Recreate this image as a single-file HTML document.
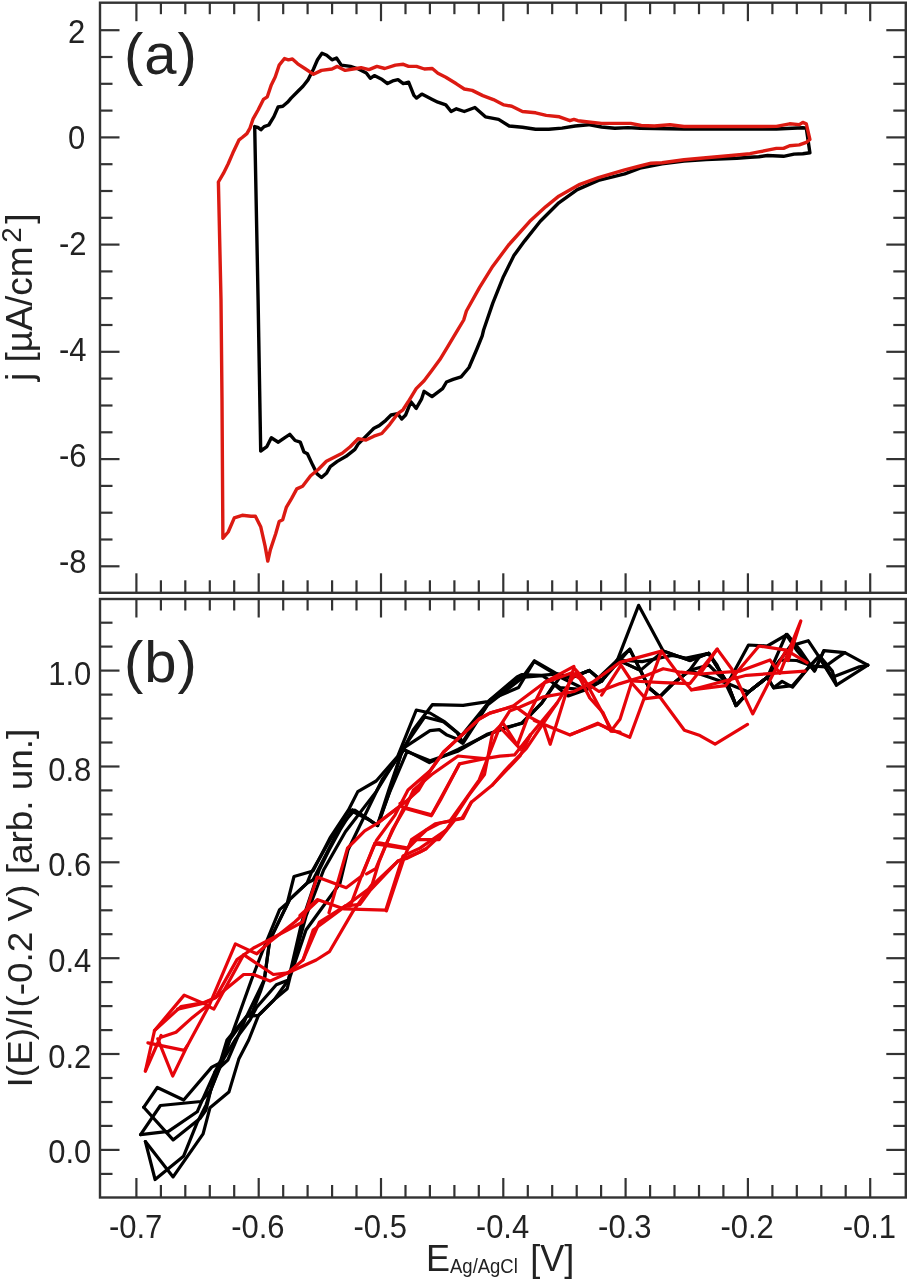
<!DOCTYPE html>
<html><head><meta charset="utf-8"><style>
html,body{margin:0;padding:0;background:#fff;}
body{width:909px;height:1280px;overflow:hidden;}
svg{display:block;}
.t{font-family:"Liberation Sans",Arial,sans-serif;font-size:31px;fill:#222;}
.a{font-family:"Liberation Sans",Arial,sans-serif;font-size:36px;fill:#222;}
.p{font-family:"Liberation Sans",Arial,sans-serif;font-size:58px;letter-spacing:1px;fill:#222;}
</style></head><body>
<svg width="909" height="1280" viewBox="0 0 909 1280">
<rect width="909" height="1280" fill="#fff"/>
<rect x="100.0" y="2.7" width="805.8" height="590.1" fill="none" stroke="#333" stroke-width="2.4"/>
<rect x="100.0" y="599.0" width="805.8" height="598.5" fill="none" stroke="#333" stroke-width="2.4"/>
<line x1="136.4" y1="2.7" x2="136.4" y2="21.2" stroke="#333" stroke-width="2.2"/>
<line x1="136.4" y1="592.8" x2="136.4" y2="573.3" stroke="#333" stroke-width="2.2"/>
<line x1="136.4" y1="599.0" x2="136.4" y2="617.5" stroke="#333" stroke-width="2.2"/>
<line x1="136.4" y1="1197.5" x2="136.4" y2="1178.0" stroke="#333" stroke-width="2.2"/>
<line x1="160.9" y1="2.7" x2="160.9" y2="14.2" stroke="#333" stroke-width="2.2"/>
<line x1="160.9" y1="592.8" x2="160.9" y2="580.3" stroke="#333" stroke-width="2.2"/>
<line x1="160.9" y1="599.0" x2="160.9" y2="610.5" stroke="#333" stroke-width="2.2"/>
<line x1="160.9" y1="1197.5" x2="160.9" y2="1185.0" stroke="#333" stroke-width="2.2"/>
<line x1="185.3" y1="2.7" x2="185.3" y2="14.2" stroke="#333" stroke-width="2.2"/>
<line x1="185.3" y1="592.8" x2="185.3" y2="580.3" stroke="#333" stroke-width="2.2"/>
<line x1="185.3" y1="599.0" x2="185.3" y2="610.5" stroke="#333" stroke-width="2.2"/>
<line x1="185.3" y1="1197.5" x2="185.3" y2="1185.0" stroke="#333" stroke-width="2.2"/>
<line x1="209.8" y1="2.7" x2="209.8" y2="14.2" stroke="#333" stroke-width="2.2"/>
<line x1="209.8" y1="592.8" x2="209.8" y2="580.3" stroke="#333" stroke-width="2.2"/>
<line x1="209.8" y1="599.0" x2="209.8" y2="610.5" stroke="#333" stroke-width="2.2"/>
<line x1="209.8" y1="1197.5" x2="209.8" y2="1185.0" stroke="#333" stroke-width="2.2"/>
<line x1="234.2" y1="2.7" x2="234.2" y2="14.2" stroke="#333" stroke-width="2.2"/>
<line x1="234.2" y1="592.8" x2="234.2" y2="580.3" stroke="#333" stroke-width="2.2"/>
<line x1="234.2" y1="599.0" x2="234.2" y2="610.5" stroke="#333" stroke-width="2.2"/>
<line x1="234.2" y1="1197.5" x2="234.2" y2="1185.0" stroke="#333" stroke-width="2.2"/>
<line x1="258.7" y1="2.7" x2="258.7" y2="21.2" stroke="#333" stroke-width="2.2"/>
<line x1="258.7" y1="592.8" x2="258.7" y2="573.3" stroke="#333" stroke-width="2.2"/>
<line x1="258.7" y1="599.0" x2="258.7" y2="617.5" stroke="#333" stroke-width="2.2"/>
<line x1="258.7" y1="1197.5" x2="258.7" y2="1178.0" stroke="#333" stroke-width="2.2"/>
<line x1="283.2" y1="2.7" x2="283.2" y2="14.2" stroke="#333" stroke-width="2.2"/>
<line x1="283.2" y1="592.8" x2="283.2" y2="580.3" stroke="#333" stroke-width="2.2"/>
<line x1="283.2" y1="599.0" x2="283.2" y2="610.5" stroke="#333" stroke-width="2.2"/>
<line x1="283.2" y1="1197.5" x2="283.2" y2="1185.0" stroke="#333" stroke-width="2.2"/>
<line x1="307.6" y1="2.7" x2="307.6" y2="14.2" stroke="#333" stroke-width="2.2"/>
<line x1="307.6" y1="592.8" x2="307.6" y2="580.3" stroke="#333" stroke-width="2.2"/>
<line x1="307.6" y1="599.0" x2="307.6" y2="610.5" stroke="#333" stroke-width="2.2"/>
<line x1="307.6" y1="1197.5" x2="307.6" y2="1185.0" stroke="#333" stroke-width="2.2"/>
<line x1="332.1" y1="2.7" x2="332.1" y2="14.2" stroke="#333" stroke-width="2.2"/>
<line x1="332.1" y1="592.8" x2="332.1" y2="580.3" stroke="#333" stroke-width="2.2"/>
<line x1="332.1" y1="599.0" x2="332.1" y2="610.5" stroke="#333" stroke-width="2.2"/>
<line x1="332.1" y1="1197.5" x2="332.1" y2="1185.0" stroke="#333" stroke-width="2.2"/>
<line x1="356.5" y1="2.7" x2="356.5" y2="14.2" stroke="#333" stroke-width="2.2"/>
<line x1="356.5" y1="592.8" x2="356.5" y2="580.3" stroke="#333" stroke-width="2.2"/>
<line x1="356.5" y1="599.0" x2="356.5" y2="610.5" stroke="#333" stroke-width="2.2"/>
<line x1="356.5" y1="1197.5" x2="356.5" y2="1185.0" stroke="#333" stroke-width="2.2"/>
<line x1="381.0" y1="2.7" x2="381.0" y2="21.2" stroke="#333" stroke-width="2.2"/>
<line x1="381.0" y1="592.8" x2="381.0" y2="573.3" stroke="#333" stroke-width="2.2"/>
<line x1="381.0" y1="599.0" x2="381.0" y2="617.5" stroke="#333" stroke-width="2.2"/>
<line x1="381.0" y1="1197.5" x2="381.0" y2="1178.0" stroke="#333" stroke-width="2.2"/>
<line x1="405.5" y1="2.7" x2="405.5" y2="14.2" stroke="#333" stroke-width="2.2"/>
<line x1="405.5" y1="592.8" x2="405.5" y2="580.3" stroke="#333" stroke-width="2.2"/>
<line x1="405.5" y1="599.0" x2="405.5" y2="610.5" stroke="#333" stroke-width="2.2"/>
<line x1="405.5" y1="1197.5" x2="405.5" y2="1185.0" stroke="#333" stroke-width="2.2"/>
<line x1="429.9" y1="2.7" x2="429.9" y2="14.2" stroke="#333" stroke-width="2.2"/>
<line x1="429.9" y1="592.8" x2="429.9" y2="580.3" stroke="#333" stroke-width="2.2"/>
<line x1="429.9" y1="599.0" x2="429.9" y2="610.5" stroke="#333" stroke-width="2.2"/>
<line x1="429.9" y1="1197.5" x2="429.9" y2="1185.0" stroke="#333" stroke-width="2.2"/>
<line x1="454.4" y1="2.7" x2="454.4" y2="14.2" stroke="#333" stroke-width="2.2"/>
<line x1="454.4" y1="592.8" x2="454.4" y2="580.3" stroke="#333" stroke-width="2.2"/>
<line x1="454.4" y1="599.0" x2="454.4" y2="610.5" stroke="#333" stroke-width="2.2"/>
<line x1="454.4" y1="1197.5" x2="454.4" y2="1185.0" stroke="#333" stroke-width="2.2"/>
<line x1="478.8" y1="2.7" x2="478.8" y2="14.2" stroke="#333" stroke-width="2.2"/>
<line x1="478.8" y1="592.8" x2="478.8" y2="580.3" stroke="#333" stroke-width="2.2"/>
<line x1="478.8" y1="599.0" x2="478.8" y2="610.5" stroke="#333" stroke-width="2.2"/>
<line x1="478.8" y1="1197.5" x2="478.8" y2="1185.0" stroke="#333" stroke-width="2.2"/>
<line x1="503.3" y1="2.7" x2="503.3" y2="21.2" stroke="#333" stroke-width="2.2"/>
<line x1="503.3" y1="592.8" x2="503.3" y2="573.3" stroke="#333" stroke-width="2.2"/>
<line x1="503.3" y1="599.0" x2="503.3" y2="617.5" stroke="#333" stroke-width="2.2"/>
<line x1="503.3" y1="1197.5" x2="503.3" y2="1178.0" stroke="#333" stroke-width="2.2"/>
<line x1="527.8" y1="2.7" x2="527.8" y2="14.2" stroke="#333" stroke-width="2.2"/>
<line x1="527.8" y1="592.8" x2="527.8" y2="580.3" stroke="#333" stroke-width="2.2"/>
<line x1="527.8" y1="599.0" x2="527.8" y2="610.5" stroke="#333" stroke-width="2.2"/>
<line x1="527.8" y1="1197.5" x2="527.8" y2="1185.0" stroke="#333" stroke-width="2.2"/>
<line x1="552.2" y1="2.7" x2="552.2" y2="14.2" stroke="#333" stroke-width="2.2"/>
<line x1="552.2" y1="592.8" x2="552.2" y2="580.3" stroke="#333" stroke-width="2.2"/>
<line x1="552.2" y1="599.0" x2="552.2" y2="610.5" stroke="#333" stroke-width="2.2"/>
<line x1="552.2" y1="1197.5" x2="552.2" y2="1185.0" stroke="#333" stroke-width="2.2"/>
<line x1="576.7" y1="2.7" x2="576.7" y2="14.2" stroke="#333" stroke-width="2.2"/>
<line x1="576.7" y1="592.8" x2="576.7" y2="580.3" stroke="#333" stroke-width="2.2"/>
<line x1="576.7" y1="599.0" x2="576.7" y2="610.5" stroke="#333" stroke-width="2.2"/>
<line x1="576.7" y1="1197.5" x2="576.7" y2="1185.0" stroke="#333" stroke-width="2.2"/>
<line x1="601.1" y1="2.7" x2="601.1" y2="14.2" stroke="#333" stroke-width="2.2"/>
<line x1="601.1" y1="592.8" x2="601.1" y2="580.3" stroke="#333" stroke-width="2.2"/>
<line x1="601.1" y1="599.0" x2="601.1" y2="610.5" stroke="#333" stroke-width="2.2"/>
<line x1="601.1" y1="1197.5" x2="601.1" y2="1185.0" stroke="#333" stroke-width="2.2"/>
<line x1="625.6" y1="2.7" x2="625.6" y2="21.2" stroke="#333" stroke-width="2.2"/>
<line x1="625.6" y1="592.8" x2="625.6" y2="573.3" stroke="#333" stroke-width="2.2"/>
<line x1="625.6" y1="599.0" x2="625.6" y2="617.5" stroke="#333" stroke-width="2.2"/>
<line x1="625.6" y1="1197.5" x2="625.6" y2="1178.0" stroke="#333" stroke-width="2.2"/>
<line x1="650.1" y1="2.7" x2="650.1" y2="14.2" stroke="#333" stroke-width="2.2"/>
<line x1="650.1" y1="592.8" x2="650.1" y2="580.3" stroke="#333" stroke-width="2.2"/>
<line x1="650.1" y1="599.0" x2="650.1" y2="610.5" stroke="#333" stroke-width="2.2"/>
<line x1="650.1" y1="1197.5" x2="650.1" y2="1185.0" stroke="#333" stroke-width="2.2"/>
<line x1="674.5" y1="2.7" x2="674.5" y2="14.2" stroke="#333" stroke-width="2.2"/>
<line x1="674.5" y1="592.8" x2="674.5" y2="580.3" stroke="#333" stroke-width="2.2"/>
<line x1="674.5" y1="599.0" x2="674.5" y2="610.5" stroke="#333" stroke-width="2.2"/>
<line x1="674.5" y1="1197.5" x2="674.5" y2="1185.0" stroke="#333" stroke-width="2.2"/>
<line x1="699.0" y1="2.7" x2="699.0" y2="14.2" stroke="#333" stroke-width="2.2"/>
<line x1="699.0" y1="592.8" x2="699.0" y2="580.3" stroke="#333" stroke-width="2.2"/>
<line x1="699.0" y1="599.0" x2="699.0" y2="610.5" stroke="#333" stroke-width="2.2"/>
<line x1="699.0" y1="1197.5" x2="699.0" y2="1185.0" stroke="#333" stroke-width="2.2"/>
<line x1="723.4" y1="2.7" x2="723.4" y2="14.2" stroke="#333" stroke-width="2.2"/>
<line x1="723.4" y1="592.8" x2="723.4" y2="580.3" stroke="#333" stroke-width="2.2"/>
<line x1="723.4" y1="599.0" x2="723.4" y2="610.5" stroke="#333" stroke-width="2.2"/>
<line x1="723.4" y1="1197.5" x2="723.4" y2="1185.0" stroke="#333" stroke-width="2.2"/>
<line x1="747.9" y1="2.7" x2="747.9" y2="21.2" stroke="#333" stroke-width="2.2"/>
<line x1="747.9" y1="592.8" x2="747.9" y2="573.3" stroke="#333" stroke-width="2.2"/>
<line x1="747.9" y1="599.0" x2="747.9" y2="617.5" stroke="#333" stroke-width="2.2"/>
<line x1="747.9" y1="1197.5" x2="747.9" y2="1178.0" stroke="#333" stroke-width="2.2"/>
<line x1="772.4" y1="2.7" x2="772.4" y2="14.2" stroke="#333" stroke-width="2.2"/>
<line x1="772.4" y1="592.8" x2="772.4" y2="580.3" stroke="#333" stroke-width="2.2"/>
<line x1="772.4" y1="599.0" x2="772.4" y2="610.5" stroke="#333" stroke-width="2.2"/>
<line x1="772.4" y1="1197.5" x2="772.4" y2="1185.0" stroke="#333" stroke-width="2.2"/>
<line x1="796.8" y1="2.7" x2="796.8" y2="14.2" stroke="#333" stroke-width="2.2"/>
<line x1="796.8" y1="592.8" x2="796.8" y2="580.3" stroke="#333" stroke-width="2.2"/>
<line x1="796.8" y1="599.0" x2="796.8" y2="610.5" stroke="#333" stroke-width="2.2"/>
<line x1="796.8" y1="1197.5" x2="796.8" y2="1185.0" stroke="#333" stroke-width="2.2"/>
<line x1="821.3" y1="2.7" x2="821.3" y2="14.2" stroke="#333" stroke-width="2.2"/>
<line x1="821.3" y1="592.8" x2="821.3" y2="580.3" stroke="#333" stroke-width="2.2"/>
<line x1="821.3" y1="599.0" x2="821.3" y2="610.5" stroke="#333" stroke-width="2.2"/>
<line x1="821.3" y1="1197.5" x2="821.3" y2="1185.0" stroke="#333" stroke-width="2.2"/>
<line x1="845.7" y1="2.7" x2="845.7" y2="14.2" stroke="#333" stroke-width="2.2"/>
<line x1="845.7" y1="592.8" x2="845.7" y2="580.3" stroke="#333" stroke-width="2.2"/>
<line x1="845.7" y1="599.0" x2="845.7" y2="610.5" stroke="#333" stroke-width="2.2"/>
<line x1="845.7" y1="1197.5" x2="845.7" y2="1185.0" stroke="#333" stroke-width="2.2"/>
<line x1="870.2" y1="2.7" x2="870.2" y2="21.2" stroke="#333" stroke-width="2.2"/>
<line x1="870.2" y1="592.8" x2="870.2" y2="573.3" stroke="#333" stroke-width="2.2"/>
<line x1="870.2" y1="599.0" x2="870.2" y2="617.5" stroke="#333" stroke-width="2.2"/>
<line x1="870.2" y1="1197.5" x2="870.2" y2="1178.0" stroke="#333" stroke-width="2.2"/>
<line x1="100.0" y1="30.2" x2="119.5" y2="30.2" stroke="#333" stroke-width="2.2"/>
<line x1="905.8" y1="30.2" x2="886.3" y2="30.2" stroke="#333" stroke-width="2.2"/>
<line x1="100.0" y1="57.0" x2="112.5" y2="57.0" stroke="#333" stroke-width="2.2"/>
<line x1="905.8" y1="57.0" x2="893.3" y2="57.0" stroke="#333" stroke-width="2.2"/>
<line x1="100.0" y1="83.8" x2="112.5" y2="83.8" stroke="#333" stroke-width="2.2"/>
<line x1="905.8" y1="83.8" x2="893.3" y2="83.8" stroke="#333" stroke-width="2.2"/>
<line x1="100.0" y1="110.6" x2="112.5" y2="110.6" stroke="#333" stroke-width="2.2"/>
<line x1="905.8" y1="110.6" x2="893.3" y2="110.6" stroke="#333" stroke-width="2.2"/>
<line x1="100.0" y1="137.4" x2="119.5" y2="137.4" stroke="#333" stroke-width="2.2"/>
<line x1="905.8" y1="137.4" x2="886.3" y2="137.4" stroke="#333" stroke-width="2.2"/>
<line x1="100.0" y1="164.2" x2="112.5" y2="164.2" stroke="#333" stroke-width="2.2"/>
<line x1="905.8" y1="164.2" x2="893.3" y2="164.2" stroke="#333" stroke-width="2.2"/>
<line x1="100.0" y1="191.0" x2="112.5" y2="191.0" stroke="#333" stroke-width="2.2"/>
<line x1="905.8" y1="191.0" x2="893.3" y2="191.0" stroke="#333" stroke-width="2.2"/>
<line x1="100.0" y1="217.8" x2="112.5" y2="217.8" stroke="#333" stroke-width="2.2"/>
<line x1="905.8" y1="217.8" x2="893.3" y2="217.8" stroke="#333" stroke-width="2.2"/>
<line x1="100.0" y1="244.6" x2="119.5" y2="244.6" stroke="#333" stroke-width="2.2"/>
<line x1="905.8" y1="244.6" x2="886.3" y2="244.6" stroke="#333" stroke-width="2.2"/>
<line x1="100.0" y1="271.4" x2="112.5" y2="271.4" stroke="#333" stroke-width="2.2"/>
<line x1="905.8" y1="271.4" x2="893.3" y2="271.4" stroke="#333" stroke-width="2.2"/>
<line x1="100.0" y1="298.2" x2="112.5" y2="298.2" stroke="#333" stroke-width="2.2"/>
<line x1="905.8" y1="298.2" x2="893.3" y2="298.2" stroke="#333" stroke-width="2.2"/>
<line x1="100.0" y1="325.0" x2="112.5" y2="325.0" stroke="#333" stroke-width="2.2"/>
<line x1="905.8" y1="325.0" x2="893.3" y2="325.0" stroke="#333" stroke-width="2.2"/>
<line x1="100.0" y1="351.8" x2="119.5" y2="351.8" stroke="#333" stroke-width="2.2"/>
<line x1="905.8" y1="351.8" x2="886.3" y2="351.8" stroke="#333" stroke-width="2.2"/>
<line x1="100.0" y1="378.6" x2="112.5" y2="378.6" stroke="#333" stroke-width="2.2"/>
<line x1="905.8" y1="378.6" x2="893.3" y2="378.6" stroke="#333" stroke-width="2.2"/>
<line x1="100.0" y1="405.5" x2="112.5" y2="405.5" stroke="#333" stroke-width="2.2"/>
<line x1="905.8" y1="405.5" x2="893.3" y2="405.5" stroke="#333" stroke-width="2.2"/>
<line x1="100.0" y1="432.3" x2="112.5" y2="432.3" stroke="#333" stroke-width="2.2"/>
<line x1="905.8" y1="432.3" x2="893.3" y2="432.3" stroke="#333" stroke-width="2.2"/>
<line x1="100.0" y1="459.1" x2="119.5" y2="459.1" stroke="#333" stroke-width="2.2"/>
<line x1="905.8" y1="459.1" x2="886.3" y2="459.1" stroke="#333" stroke-width="2.2"/>
<line x1="100.0" y1="485.9" x2="112.5" y2="485.9" stroke="#333" stroke-width="2.2"/>
<line x1="905.8" y1="485.9" x2="893.3" y2="485.9" stroke="#333" stroke-width="2.2"/>
<line x1="100.0" y1="512.7" x2="112.5" y2="512.7" stroke="#333" stroke-width="2.2"/>
<line x1="905.8" y1="512.7" x2="893.3" y2="512.7" stroke="#333" stroke-width="2.2"/>
<line x1="100.0" y1="539.5" x2="112.5" y2="539.5" stroke="#333" stroke-width="2.2"/>
<line x1="905.8" y1="539.5" x2="893.3" y2="539.5" stroke="#333" stroke-width="2.2"/>
<line x1="100.0" y1="566.3" x2="119.5" y2="566.3" stroke="#333" stroke-width="2.2"/>
<line x1="905.8" y1="566.3" x2="886.3" y2="566.3" stroke="#333" stroke-width="2.2"/>
<line x1="100.0" y1="1173.9" x2="112.5" y2="1173.9" stroke="#333" stroke-width="2.2"/>
<line x1="905.8" y1="1173.9" x2="893.3" y2="1173.9" stroke="#333" stroke-width="2.2"/>
<line x1="100.0" y1="1149.9" x2="119.5" y2="1149.9" stroke="#333" stroke-width="2.2"/>
<line x1="905.8" y1="1149.9" x2="886.3" y2="1149.9" stroke="#333" stroke-width="2.2"/>
<line x1="100.0" y1="1125.9" x2="112.5" y2="1125.9" stroke="#333" stroke-width="2.2"/>
<line x1="905.8" y1="1125.9" x2="893.3" y2="1125.9" stroke="#333" stroke-width="2.2"/>
<line x1="100.0" y1="1102.0" x2="112.5" y2="1102.0" stroke="#333" stroke-width="2.2"/>
<line x1="905.8" y1="1102.0" x2="893.3" y2="1102.0" stroke="#333" stroke-width="2.2"/>
<line x1="100.0" y1="1078.0" x2="112.5" y2="1078.0" stroke="#333" stroke-width="2.2"/>
<line x1="905.8" y1="1078.0" x2="893.3" y2="1078.0" stroke="#333" stroke-width="2.2"/>
<line x1="100.0" y1="1054.0" x2="119.5" y2="1054.0" stroke="#333" stroke-width="2.2"/>
<line x1="905.8" y1="1054.0" x2="886.3" y2="1054.0" stroke="#333" stroke-width="2.2"/>
<line x1="100.0" y1="1030.1" x2="112.5" y2="1030.1" stroke="#333" stroke-width="2.2"/>
<line x1="905.8" y1="1030.1" x2="893.3" y2="1030.1" stroke="#333" stroke-width="2.2"/>
<line x1="100.0" y1="1006.1" x2="112.5" y2="1006.1" stroke="#333" stroke-width="2.2"/>
<line x1="905.8" y1="1006.1" x2="893.3" y2="1006.1" stroke="#333" stroke-width="2.2"/>
<line x1="100.0" y1="982.1" x2="112.5" y2="982.1" stroke="#333" stroke-width="2.2"/>
<line x1="905.8" y1="982.1" x2="893.3" y2="982.1" stroke="#333" stroke-width="2.2"/>
<line x1="100.0" y1="958.2" x2="119.5" y2="958.2" stroke="#333" stroke-width="2.2"/>
<line x1="905.8" y1="958.2" x2="886.3" y2="958.2" stroke="#333" stroke-width="2.2"/>
<line x1="100.0" y1="934.2" x2="112.5" y2="934.2" stroke="#333" stroke-width="2.2"/>
<line x1="905.8" y1="934.2" x2="893.3" y2="934.2" stroke="#333" stroke-width="2.2"/>
<line x1="100.0" y1="910.3" x2="112.5" y2="910.3" stroke="#333" stroke-width="2.2"/>
<line x1="905.8" y1="910.3" x2="893.3" y2="910.3" stroke="#333" stroke-width="2.2"/>
<line x1="100.0" y1="886.3" x2="112.5" y2="886.3" stroke="#333" stroke-width="2.2"/>
<line x1="905.8" y1="886.3" x2="893.3" y2="886.3" stroke="#333" stroke-width="2.2"/>
<line x1="100.0" y1="862.3" x2="119.5" y2="862.3" stroke="#333" stroke-width="2.2"/>
<line x1="905.8" y1="862.3" x2="886.3" y2="862.3" stroke="#333" stroke-width="2.2"/>
<line x1="100.0" y1="838.4" x2="112.5" y2="838.4" stroke="#333" stroke-width="2.2"/>
<line x1="905.8" y1="838.4" x2="893.3" y2="838.4" stroke="#333" stroke-width="2.2"/>
<line x1="100.0" y1="814.4" x2="112.5" y2="814.4" stroke="#333" stroke-width="2.2"/>
<line x1="905.8" y1="814.4" x2="893.3" y2="814.4" stroke="#333" stroke-width="2.2"/>
<line x1="100.0" y1="790.4" x2="112.5" y2="790.4" stroke="#333" stroke-width="2.2"/>
<line x1="905.8" y1="790.4" x2="893.3" y2="790.4" stroke="#333" stroke-width="2.2"/>
<line x1="100.0" y1="766.5" x2="119.5" y2="766.5" stroke="#333" stroke-width="2.2"/>
<line x1="905.8" y1="766.5" x2="886.3" y2="766.5" stroke="#333" stroke-width="2.2"/>
<line x1="100.0" y1="742.5" x2="112.5" y2="742.5" stroke="#333" stroke-width="2.2"/>
<line x1="905.8" y1="742.5" x2="893.3" y2="742.5" stroke="#333" stroke-width="2.2"/>
<line x1="100.0" y1="718.5" x2="112.5" y2="718.5" stroke="#333" stroke-width="2.2"/>
<line x1="905.8" y1="718.5" x2="893.3" y2="718.5" stroke="#333" stroke-width="2.2"/>
<line x1="100.0" y1="694.6" x2="112.5" y2="694.6" stroke="#333" stroke-width="2.2"/>
<line x1="905.8" y1="694.6" x2="893.3" y2="694.6" stroke="#333" stroke-width="2.2"/>
<line x1="100.0" y1="670.6" x2="119.5" y2="670.6" stroke="#333" stroke-width="2.2"/>
<line x1="905.8" y1="670.6" x2="886.3" y2="670.6" stroke="#333" stroke-width="2.2"/>
<line x1="100.0" y1="646.6" x2="112.5" y2="646.6" stroke="#333" stroke-width="2.2"/>
<line x1="905.8" y1="646.6" x2="893.3" y2="646.6" stroke="#333" stroke-width="2.2"/>
<line x1="100.0" y1="622.7" x2="112.5" y2="622.7" stroke="#333" stroke-width="2.2"/>
<line x1="905.8" y1="622.7" x2="893.3" y2="622.7" stroke="#333" stroke-width="2.2"/>
<text transform="translate(85.2,42.9) scale(1,1.08)" text-anchor="end" class="t">2</text>
<text transform="translate(85.2,149.0) scale(1,1.08)" text-anchor="end" class="t">0</text>
<text transform="translate(86.6,255.0) scale(1,1.08)" text-anchor="end" class="t">-2</text>
<text transform="translate(86.6,361.0) scale(1,1.08)" text-anchor="end" class="t">-4</text>
<text transform="translate(86.6,467.0) scale(1,1.08)" text-anchor="end" class="t">-6</text>
<text transform="translate(86.6,573.0) scale(1,1.08)" text-anchor="end" class="t">-8</text>
<text transform="translate(91.3,1163.3) scale(1,1.08)" text-anchor="end" class="t">0.0</text>
<text transform="translate(91.3,1067.7) scale(1,1.08)" text-anchor="end" class="t">0.2</text>
<text transform="translate(91.3,972.0) scale(1,1.08)" text-anchor="end" class="t">0.4</text>
<text transform="translate(91.3,876.4) scale(1,1.08)" text-anchor="end" class="t">0.6</text>
<text transform="translate(91.3,780.7) scale(1,1.08)" text-anchor="end" class="t">0.8</text>
<text transform="translate(91.3,685.1) scale(1,1.08)" text-anchor="end" class="t">1.0</text>
<text transform="translate(135.6,1238.0) scale(1,1.08)" text-anchor="middle" class="t">-0.7</text>
<text transform="translate(257.9,1238.0) scale(1,1.08)" text-anchor="middle" class="t">-0.6</text>
<text transform="translate(380.2,1238.0) scale(1,1.08)" text-anchor="middle" class="t">-0.5</text>
<text transform="translate(502.5,1238.0) scale(1,1.08)" text-anchor="middle" class="t">-0.4</text>
<text transform="translate(624.8,1238.0) scale(1,1.08)" text-anchor="middle" class="t">-0.3</text>
<text transform="translate(747.1,1238.0) scale(1,1.08)" text-anchor="middle" class="t">-0.2</text>
<text transform="translate(869.4,1238.0) scale(1,1.08)" text-anchor="middle" class="t">-0.1</text>
<text x="124" y="73.8" class="p">(a)</text>
<text x="124" y="682" class="p">(b)</text>
<text transform="translate(31.8,381) rotate(-90) scale(1.03,1)" class="a">j [µA/cm<tspan dx="3.5" dy="-10.7" font-size="27">2</tspan><tspan dx="3.5" dy="10.7">]</tspan></text>
<text transform="translate(32.3,1087.4) rotate(-90) scale(1.025,1)" class="a">I(E)/I(-0.2 V) [arb. un.]</text>
<text transform="translate(426,1270.8) scale(1,1.05)" class="a">E<tspan font-size="18.5" dy="1.8">Ag/AgCl</tspan><tspan dx="2.5" dy="-1.8"> [V]</tspan></text>
<polyline points="254.7,126.6 257.8,127.3 260.9,129.7 264.1,126.6 268.8,125.0 273.9,116.6 278.1,107.0 282.8,106.3 287.5,102.3 291.1,98.1 297.7,91.5 303.0,86.2 308.2,79.6 313.5,69.0 317.5,59.8 322.0,53.2 326.7,55.3 332.0,59.8 336.5,58.0 341.3,65.1 350.5,66.4 358.4,69.0 366.3,73.0 370.3,78.3 374.3,75.6 382.2,79.6 387.5,83.6 392.7,80.9 398.0,79.6 403.3,83.6 408.6,82.2 413.9,95.4 416.5,98.1 421.8,94.1 427.1,96.8 432.3,99.4 437.9,102.2 445.8,104.9 451.1,111.5 456.4,108.8 464.3,111.5 474.9,107.5 485.4,116.8 498.6,119.4 509.2,126.0 522.4,127.3 535.6,129.2 548.8,129.2 562.0,128.1 575.2,126.0 588.4,124.7 601.6,127.0 614.8,128.3 628.0,127.6 640.0,128.2 684.0,129.0 728.0,129.0 776.4,129.0 802.8,127.7 806.3,128.2 809.9,152.8 802.8,153.7 794.0,154.1 783.5,156.3 767.6,155.5 758.8,156.8 750.0,157.2 736.8,158.3 706.0,159.5 684.0,161.0 662.0,163.8 640.0,168.2 624.8,173.8 598.4,180.4 577.3,189.6 558.8,202.8 540.3,221.3 524.5,241.1 513.9,255.6 503.4,276.7 492.8,303.1 483.6,330.0 482.2,335.8 476.9,349.0 469.0,367.5 461.1,376.8 453.1,379.4 446.5,382.0 442.6,388.6 437.3,392.6 432.0,396.6 424.1,391.3 421.5,399.2 416.2,408.4 410.9,401.8 405.6,415.0 401.7,419.0 397.7,413.7 391.1,415.0 385.8,420.3 379.2,425.6 373.9,428.2 371.3,430.9 366.0,436.2 358.1,444.1 354.9,449.3 346.1,456.3 337.3,461.4 330.3,466.6 326.7,472.9 321.5,477.5 317.1,473.9 312.7,465.1 307.4,453.7 303.9,451.9 300.3,442.2 295.1,440.5 289.8,434.3 284.5,437.8 278.3,442.2 271.3,437.8 266.9,446.6 260.7,451.0 258.1,300.0 254.7,126.6" fill="none" stroke="#000" stroke-width="3.4" stroke-linejoin="round" stroke-linecap="round"/>
<polyline points="218.4,182.0 223.4,173.4 228.1,164.0 232.8,153.1 239.1,139.8 242.2,137.5 246.9,133.6 250.0,128.1 253.1,118.8 258.1,110.0 263.4,99.4 267.3,96.8 271.3,84.9 275.2,77.0 279.2,65.1 284.5,58.5 288.4,59.8 292.4,59.0 297.7,63.8 305.6,69.0 313.5,74.3 321.5,70.4 332.0,69.0 337.3,66.4 345.2,70.4 353.1,69.0 361.1,67.7 369.0,69.6 376.9,66.4 384.8,68.5 395.4,65.1 403.3,64.3 408.6,66.4 416.5,66.4 424.4,69.0 432.3,68.5 437.9,73.2 445.8,77.2 456.4,83.8 464.3,89.0 472.2,90.4 482.8,95.6 493.4,99.6 503.9,104.9 511.8,106.2 522.4,111.5 535.6,112.8 546.2,115.4 559.4,116.8 569.9,120.7 573.9,119.4 577.9,120.7 588.4,122.0 601.6,123.4 614.8,123.4 630.7,123.4 641.2,125.5 654.4,126.0 670.0,124.7 684.0,126.5 728.0,126.5 776.4,126.4 789.6,123.8 799.3,124.6 802.8,122.4 806.3,123.8 809.9,139.5 806.3,142.3 799.3,144.9 789.6,145.8 783.5,148.4 776.4,148.4 767.6,150.2 758.8,151.9 750.0,153.7 736.8,155.0 706.0,157.8 684.0,159.8 662.0,162.7 651.2,163.2 640.0,166.0 624.8,169.8 598.4,177.7 579.9,184.3 558.8,196.2 545.6,206.8 529.8,221.3 508.6,245.0 492.8,266.2 479.6,287.3 466.4,311.0 463.7,320.0 455.8,333.2 447.9,346.4 439.9,359.6 432.0,370.2 424.1,380.7 416.2,388.6 408.2,401.8 403.0,409.8 397.7,413.7 389.8,424.3 381.8,433.5 373.9,436.2 366.0,440.1 358.1,438.8 350.2,446.7 342.2,453.3 334.3,457.3 326.4,461.3 318.5,469.2 310.6,475.8 302.6,486.3 296.8,488.9 291.5,498.6 286.3,507.4 282.7,519.7 279.2,521.5 275.7,533.8 270.4,549.6 267.8,561.1 265.1,546.1 260.7,526.7 255.4,516.2 251.0,516.2 242.2,515.3 234.3,517.9 228.2,532.0 222.9,538.2 222.0,400.0 221.0,300.0 218.4,182.0" fill="none" stroke="#dc1a12" stroke-width="3.4" stroke-linejoin="round" stroke-linecap="round"/>
<polyline points="143.7,1107.3 157.3,1087.5 183.7,1100.0 211.8,1067.1 222.0,1062.0 251.5,979.8 262.0,952.5 279.6,909.6 287.3,903.0 294.0,876.5 313.0,871.0 330.0,838.0 348.5,810.0 357.8,791.6 376.2,781.0 397.8,756.2 416.3,710.0 430.0,713.0 444.8,721.9 461.3,736.0 490.9,699.4 518.6,677.6 542.4,675.6 560.0,687.5 585.8,689.8 617.5,659.9 638.6,605.3 663.2,651.1 690.0,660.6 708.8,653.3 727.6,683.6 736.0,705.6 748.5,692.0 767.3,677.3 773.6,687.8 782.1,681.4 792.5,687.2 808.2,667.9 818.7,656.4 832.3,677.3 859.4,666.8 867.8,665.2" fill="none" stroke="#000" stroke-width="3.2" stroke-linejoin="round" stroke-linecap="round"/>
<polyline points="143.7,1107.3 173.1,1139.9 200.0,1118.5 206.0,1110.0 215.1,1071.7 227.8,1060.0 246.6,1016.4 252.5,1011.5 260.4,991.7 264.4,979.8 269.7,940.4 289.5,899.7 307.1,883.2 313.0,880.0 340.8,825.5 354.7,810.1 377.8,825.5 388.6,794.7 400.9,754.7 413.2,730.0 432.3,704.7 463.1,705.4 487.8,701.6 517.0,676.9 521.6,674.6 541.7,675.4 557.6,673.9 571.7,677.5 589.3,670.4 601.6,681.0 629.8,649.3 640.4,670.4 649.2,688.0 659.7,696.8 672.0,684.5 689.6,670.4 708.8,665.0 727.6,683.6 748.5,645.0 767.3,646.0 787.3,634.4 800.0,650.0 814.5,671.0 823.9,650.6 844.8,652.7 867.8,665.2" fill="none" stroke="#000" stroke-width="3.2" stroke-linejoin="round" stroke-linecap="round"/>
<polyline points="140.6,1134.6 160.4,1105.5 201.0,1101.5 210.8,1090.0 223.0,1059.8 235.0,1040.0 250.0,1020.0 256.5,1007.5 276.3,984.8 288.4,980.0 306.0,916.2 323.6,870.0 345.4,831.7 376.2,791.6 400.9,751.6 424.6,717.0 443.1,721.6 457.0,732.4 463.1,743.2 487.8,704.7 521.6,678.5 534.0,661.5 560.0,677.0 585.8,689.8 601.6,681.0 617.5,660.0 642.1,661.6 672.0,655.5 686.1,658.1 708.8,653.3 717.0,665.0 736.0,705.6 748.5,692.0 767.3,677.3 790.5,645.9 808.2,640.7 818.7,656.4 836.4,685.1 867.8,665.2" fill="none" stroke="#000" stroke-width="3.2" stroke-linejoin="round" stroke-linecap="round"/>
<polyline points="140.6,1134.6 168.4,1131.4 197.2,1111.8 203.2,1098.1 215.1,1071.7 221.0,1059.8 227.0,1040.0 246.6,1016.4 258.5,1015.4 260.4,1013.5 274.3,999.6 287.2,988.7 290.1,976.8 306.0,930.0 321.4,908.8 340.0,883.2 348.0,850.0 382.4,779.3 404.1,749.4 429.4,762.6 458.0,749.4 486.9,735.0 506.7,727.1 522.6,723.2 541.7,703.1 560.0,677.0 571.7,677.5 589.3,670.4 601.6,681.0 617.5,659.9 640.4,670.4 649.2,688.0 659.7,696.8 672.0,684.5 689.6,670.4 700.0,656.0 708.8,653.3 727.6,683.6 748.5,692.0 767.3,677.3 780.0,660.0 796.7,660.5 811.4,665.8 824.9,666.8 836.4,658.4 844.8,652.7" fill="none" stroke="#000" stroke-width="3.2" stroke-linejoin="round" stroke-linecap="round"/>
<polyline points="145.4,1141.6 155.1,1179.5 183.5,1156.3 196.9,1123.1 206.2,1104.6 210.8,1090.0 229.6,1040.0 246.6,1016.4 264.2,980.0 269.7,940.4 289.5,899.7 307.1,883.2 311.5,872.2 330.0,840.0 349.2,809.8 369.0,819.7 377.3,825.5 388.8,790.0 403.0,748.3 430.0,730.7 439.3,729.6 447.0,735.1 455.8,738.4 462.0,743.0 490.9,699.4 518.6,687.5 534.5,660.8 560.0,675.6 571.7,677.5 589.3,670.4 601.6,681.0 617.5,659.9 629.8,649.3 640.4,670.4 663.2,651.1 690.0,660.6 708.8,653.3 727.6,683.6 736.0,705.6 748.5,692.0 767.3,677.3 786.2,634.5 796.6,650.2 814.5,671.0 823.9,650.6" fill="none" stroke="#000" stroke-width="3.2" stroke-linejoin="round" stroke-linecap="round"/>
<polyline points="145.4,1141.6 173.1,1176.9 203.1,1133.9 210.0,1107.7 228.9,1092.1 238.8,1059.1 248.7,1040.0 258.5,1015.4 274.3,999.6 288.4,980.0 301.6,922.8 319.2,870.0 329.1,850.0 340.0,830.0 352.5,809.8 369.0,819.7 377.3,825.5 388.6,794.7 407.0,751.6 430.0,760.8 458.5,750.9 487.8,733.9 521.6,723.1 541.7,703.1 554.1,684.5 568.2,696.0 585.8,689.8 601.6,681.0 617.5,659.9 640.4,670.4 649.2,688.0 659.7,696.8 672.0,684.5 689.6,670.4 727.6,683.6 736.0,705.6 748.5,692.0 767.3,677.3 773.6,687.8 792.4,685.7 808.2,667.9 819.7,656.0 832.3,671.0 836.4,685.1" fill="none" stroke="#000" stroke-width="3.2" stroke-linejoin="round" stroke-linecap="round"/>
<polyline points="145.4,1071.0 154.5,1030.6 184.2,995.1 209.0,1005.8 235.4,943.9 256.8,953.8 270.0,941.8 294.8,922.0 317.9,900.6" fill="none" stroke="#e6040a" stroke-width="3.2" stroke-linejoin="round" stroke-linecap="round"/>
<polyline points="145.4,1071.0 161.1,1035.5 161.1,1037.2 176.0,1032.2 192.5,1017.4 207.3,1005.8 213.9,1009.1 243.6,954.7 273.3,974.5 288.0,972.8 303.0,960.0 319.5,922.0 345.0,906.0 350.2,906.2 362.0,874.5 376.6,840.2 395.0,815.1 408.0,790.0 430.4,770.5" fill="none" stroke="#e6040a" stroke-width="3.2" stroke-linejoin="round" stroke-linecap="round"/>
<polyline points="147.9,1042.9 184.2,1050.4 187.5,1045.4" fill="none" stroke="#e6040a" stroke-width="3.2" stroke-linejoin="round" stroke-linecap="round"/>
<polyline points="157.8,1038.8 172.7,1076.0 187.5,1045.4 209.0,1005.8" fill="none" stroke="#e6040a" stroke-width="3.2" stroke-linejoin="round" stroke-linecap="round"/>
<polyline points="154.5,1030.6 180.9,1006.6 204.0,1002.5 215.6,997.6 237.0,959.6 253.5,948.0 288.0,929.9 302.6,922.0 317.2,877.1 346.2,887.7 362.0,875.8 373.9,845.4 379.2,842.8 408.2,848.1 420.0,836.2 426.4,830.0 439.6,823.3 462.0,818.0 471.3,802.2 492.4,785.0 520.0,756.0 530.4,735.0 556.8,703.4 576.6,671.7 589.8,698.0 603.0,712.6 610.9,731.1 620.0,719.2 631.5,682.7 645.6,698.6 659.7,696.8 684.4,730.3 700.0,735.6 715.1,744.2 747.5,724.4" fill="none" stroke="#e6040a" stroke-width="3.2" stroke-linejoin="round" stroke-linecap="round"/>
<polyline points="177.6,1009.1 204.0,1003.3 215.6,997.6 243.6,974.5 253.5,974.5 270.0,981.1 288.0,972.8" fill="none" stroke="#e6040a" stroke-width="3.2" stroke-linejoin="round" stroke-linecap="round"/>
<polyline points="300.0,915.4 317.2,899.6 343.6,908.8 385.8,910.1 403.0,856.0 420.0,848.1 446.2,830.0 468.6,795.6 484.5,774.5 492.4,733.6 503.0,723.0 520.0,749.4 530.4,735.0" fill="none" stroke="#e6040a" stroke-width="3.2" stroke-linejoin="round" stroke-linecap="round"/>
<polyline points="303.0,960.0 313.2,930.0 333.0,915.4 368.6,889.0 397.7,861.3 420.0,852.0 426.0,848.8" fill="none" stroke="#e6040a" stroke-width="3.2" stroke-linejoin="round" stroke-linecap="round"/>
<polyline points="288.0,972.8 316.2,960.0 329.4,951.7 352.5,912.1 372.3,884.0 379.2,861.3 392.4,829.6 405.6,807.2 413.5,790.0 431.7,774.5 458.1,756.0 484.5,758.6" fill="none" stroke="#e6040a" stroke-width="3.2" stroke-linejoin="round" stroke-linecap="round"/>
<polyline points="329.0,912.8 347.5,848.1 354.1,841.5 364.7,830.9 377.9,823.0 389.8,813.8 405.6,801.9 418.8,790.0 430.4,770.5 443.6,752.0 463.4,733.6 479.2,719.0 489.8,713.1 505.6,708.5 514.5,706.0 529.0,716.6 543.6,724.5 550.2,744.3 573.9,667.7 584.5,679.6 612.2,731.1 620.0,732.0" fill="none" stroke="#e6040a" stroke-width="3.2" stroke-linejoin="round" stroke-linecap="round"/>
<polyline points="377.9,823.0 400.0,806.2 431.7,814.8 459.4,763.9 484.5,758.6 500.0,756.2 514.5,754.9 530.4,735.0" fill="none" stroke="#e6040a" stroke-width="3.2" stroke-linejoin="round" stroke-linecap="round"/>
<polyline points="345.0,906.0 360.0,904.3 370.6,889.8 398.3,860.7 407.5,858.1 426.0,848.8 446.2,830.0" fill="none" stroke="#e6040a" stroke-width="3.2" stroke-linejoin="round" stroke-linecap="round"/>
<polyline points="386.4,910.9 403.6,859.4 411.5,839.6 435.2,823.8 449.8,821.1 465.0,800.0 479.2,779.8 500.3,725.6 509.6,711.1 520.0,707.0 543.6,696.8 573.9,691.5 592.4,682.2 620.0,662.4 661.5,651.1" fill="none" stroke="#e6040a" stroke-width="3.2" stroke-linejoin="round" stroke-linecap="round"/>
<polyline points="374.5,843.6 407.5,848.8 412.8,839.6 439.2,839.6 455.0,819.8 463.0,818.5 471.3,802.2" fill="none" stroke="#e6040a" stroke-width="3.2" stroke-linejoin="round" stroke-linecap="round"/>
<polyline points="366.6,873.9 375.8,868.6 386.4,843.6 403.6,807.9 431.3,815.8 440.5,800.0 459.4,763.9" fill="none" stroke="#e6040a" stroke-width="3.2" stroke-linejoin="round" stroke-linecap="round"/>
<polyline points="400.0,803.5 407.9,800.9 430.4,770.5 443.6,752.0 463.4,733.6 479.2,719.0 489.8,713.1 505.6,708.5 513.5,705.8 544.9,682.2 573.9,666.4" fill="none" stroke="#e6040a" stroke-width="3.2" stroke-linejoin="round" stroke-linecap="round"/>
<polyline points="500.0,727.1 517.2,745.6 529.0,713.9 544.9,682.2" fill="none" stroke="#e6040a" stroke-width="3.2" stroke-linejoin="round" stroke-linecap="round"/>
<polyline points="492.4,785.0 505.3,770.0 526.4,748.3 556.8,703.4" fill="none" stroke="#e6040a" stroke-width="3.2" stroke-linejoin="round" stroke-linecap="round"/>
<polyline points="534.3,720.5 570.0,735.0 597.7,723.2 612.2,731.1" fill="none" stroke="#e6040a" stroke-width="3.2" stroke-linejoin="round" stroke-linecap="round"/>
<polyline points="546.2,682.2 571.3,673.0 599.0,691.5 620.0,683.6 645.6,675.7 663.2,668.7 680.8,672.2 700.0,674.0 717.2,649.1 731.8,669.0 752.7,713.9 775.7,669.0 786.2,650.2" fill="none" stroke="#e6040a" stroke-width="3.2" stroke-linejoin="round" stroke-linecap="round"/>
<polyline points="569.9,734.7 598.1,724.1 629.8,737.3 661.5,651.1 680.8,677.5 691.4,689.8 725.5,685.7 759.0,646.0 786.2,650.2 807.1,662.7" fill="none" stroke="#e6040a" stroke-width="3.2" stroke-linejoin="round" stroke-linecap="round"/>
<polyline points="601.6,695.1 621.0,665.1 631.5,681.0 663.2,682.7 690.0,683.6 717.2,649.1" fill="none" stroke="#e6040a" stroke-width="3.2" stroke-linejoin="round" stroke-linecap="round"/>
<polyline points="700.0,674.0 740.2,671.1 770.0,660.0 779.9,673.2 800.8,620.9 788.2,660.6" fill="none" stroke="#e6040a" stroke-width="3.2" stroke-linejoin="round" stroke-linecap="round"/>
<polyline points="691.4,689.8 746.4,675.3 805.0,671.1" fill="none" stroke="#e6040a" stroke-width="3.2" stroke-linejoin="round" stroke-linecap="round"/>
</svg>
</body></html>
